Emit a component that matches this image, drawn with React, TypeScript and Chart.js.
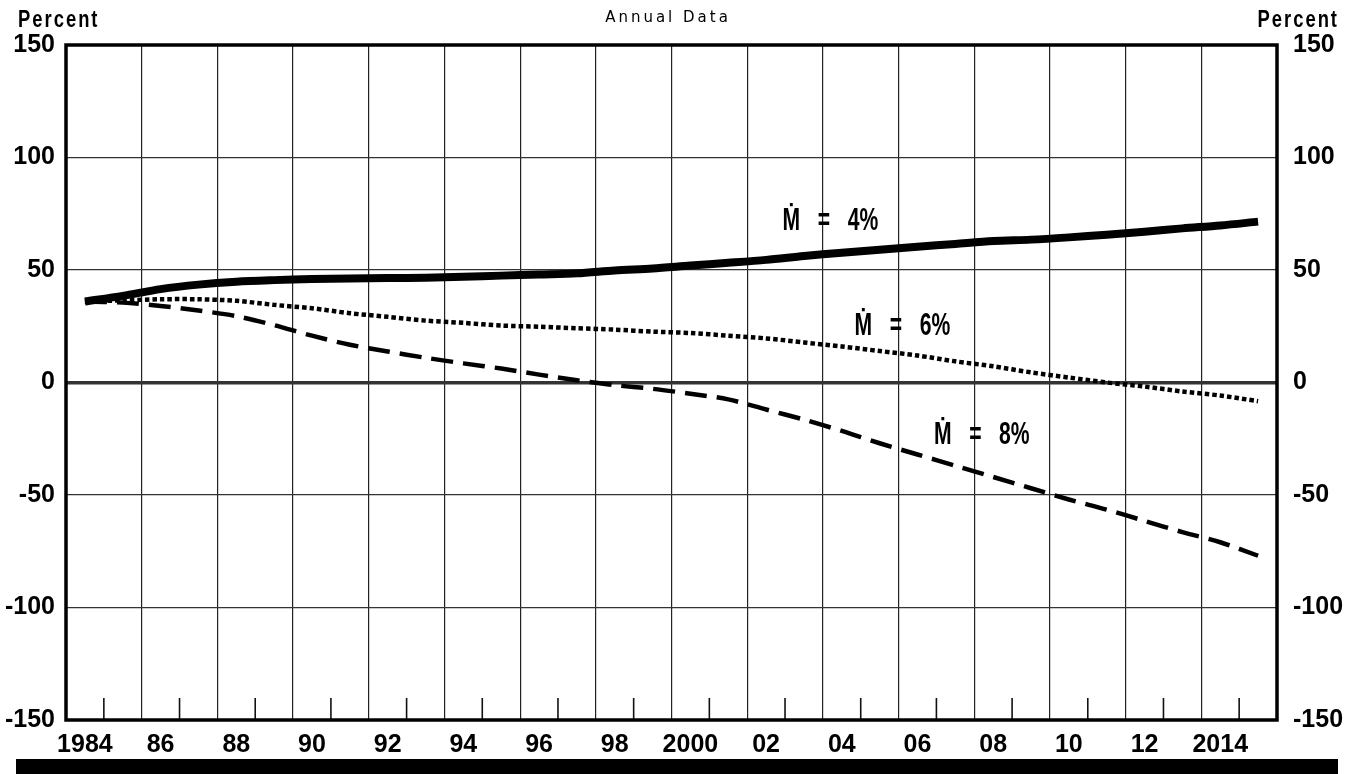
import React, { useEffect, useRef } from 'react';
import { Chart, registerables } from 'chart.js';

Chart.register(...registerables);

// ---------- data ----------
const years: string[] = [
  '1984', '1985', '1986', '1987', '1988', '1989', '1990', '1991', '1992', '1993', '1994',
  '1995', '1996', '1997', '1998', '1999', '2000', '2001', '2002', '2003', '2004', '2005',
  '2006', '2007', '2008', '2009', '2010', '2011', '2012', '2013', '2014', '2015',
];
const xTickLabels: string[] = [
  '1984', '86', '88', '90', '92', '94', '96', '98', '2000', '02', '04', '06', '08', '10', '12', '2014',
];
const yTicks: number[] = [-150, -100, -50, 0, 50, 100, 150];

const m4: number[] = [
  36, 38.5, 41.5, 43.5, 44.8, 45.5, 46, 46.2, 46.4, 46.6, 47, 47.5, 48, 48.5, 49.8, 50.7,
  52, 53.2, 54.5, 56.2, 57.7, 59, 60.3, 61.6, 62.9, 63.5, 64.5, 65.7, 67, 68.5, 69.8, 71.5,
];
const m6: number[] = [
  36, 36.5, 37, 37, 36.3, 34.5, 33, 30.8, 29.2, 27.5, 26.5, 25.3, 24.8, 24.1, 23.5, 22.6,
  22, 20.8, 19.6, 17.8, 16, 14, 12, 9.4, 7.2, 4.5, 2.2, 0, -1.8, -4, -5.8, -8.3,
];
const m8: number[] = [
  36, 35.5, 34, 32, 29.5, 25.5, 20.8, 16.8, 13.8, 11, 8.5, 6.2, 3.5, 1, -1.2, -2.8,
  -5, -7.5, -12, -16.5, -21.5, -27, -32, -37, -42, -47, -52, -56.5, -61.5, -66.5, -71, -77,
];

const seriesLabels: string[] = ['Ṁ   =   4%', 'Ṁ   =   6%', 'Ṁ   =   8%'];
// label anchors in data space: [category index, value]
const labelAnchors: [number, number][] = [
  [19.7, 71.8],
  [21.6, 25],
  [23.7, -23.3],
];

const FONT = '"Liberation Sans", Arial, sans-serif';

function drawNarrow(ctx: any, text: string, x: number, y: number, sx: number) {
  ctx.save();
  ctx.translate(x, y);
  ctx.scale(sx, 1);
  ctx.fillText(text, 0, 0);
  ctx.restore();
}

const decorPlugin = {
  id: 'decor',
  afterDraw(chart: any) {
    const { ctx, chartArea, scales } = chart;
    const x = scales.x;
    const y = scales.y;
    ctx.save();
    // minor ticks at odd-year boundaries
    ctx.strokeStyle = '#111';
    ctx.lineWidth = 1.6;
    for (let i = 1; i < years.length; i += 2) {
      const px = (x.getPixelForValue(i - 1) + x.getPixelForValue(i)) / 2;
      ctx.beginPath();
      ctx.moveTo(px, chartArea.bottom);
      ctx.lineTo(px, chartArea.bottom - 22);
      ctx.stroke();
    }
    // frame
    ctx.lineWidth = 3.5;
    ctx.strokeStyle = '#000';
    ctx.strokeRect(chartArea.left, chartArea.top, chartArea.right - chartArea.left, chartArea.bottom - chartArea.top);
    // series labels
    ctx.fillStyle = '#000';
    ctx.font = 'bold 32px ' + FONT;
    ctx.textAlign = 'center';
    ctx.textBaseline = 'middle';
    seriesLabels.forEach((t, k) => {
      const [ix, v] = labelAnchors[k];
      drawNarrow(ctx, t, x.getPixelForValue(ix), y.getPixelForValue(v), 0.66);
    });
    // top texts
    ctx.font = 'bold 23px ' + FONT;
    (ctx as any).letterSpacing = '2.5px';
    ctx.textBaseline = 'alphabetic';
    ctx.textAlign = 'left';
    drawNarrow(ctx, 'Percent', 18, 27, 0.8);
    ctx.textAlign = 'right';
    drawNarrow(ctx, 'Percent', 1339, 27, 0.8);
    (ctx as any).letterSpacing = '3px';
    ctx.font = '15px "DejaVu Sans", sans-serif';
    ctx.textAlign = 'center';
    ctx.fillText('Annual Data', 668, 22);
    (ctx as any).letterSpacing = '0px';
    // bottom black band
    ctx.fillRect(16, 759, 1322, 15);
    ctx.restore();
  },
};

export default function App() {
  const ref = useRef<HTMLCanvasElement | null>(null);
  useEffect(() => {
    if (!ref.current) return;
    const tickFont = { family: FONT, size: 25, weight: 'bold' as const };
    const chart = new Chart(ref.current, {
      type: 'line',
      data: {
        labels: years,
        datasets: [
          {
            label: seriesLabels[0],
            data: m4,
            borderColor: '#000',
            borderWidth: 8,
            pointRadius: 0,
            tension: 0.3,
            borderCapStyle: 'butt',
            yAxisID: 'y',
          },
          {
            label: seriesLabels[1],
            data: m6,
            borderColor: '#000',
            borderWidth: 4.5,
            borderDash: [4.5, 3],
            pointRadius: 0,
            tension: 0.3,
            yAxisID: 'y',
          },
          {
            label: seriesLabels[2],
            data: m8,
            borderColor: '#000',
            borderWidth: 4.5,
            borderDash: [22, 10],
            pointRadius: 0,
            tension: 0.3,
            yAxisID: 'y',
          },
        ],
      },
      options: {
        animation: false,
        responsive: true,
        maintainAspectRatio: false,
        layout: { padding: { top: 45, left: 0, right: 0, bottom: 0 } },
        plugins: { legend: { display: false }, tooltip: { enabled: false }, title: { display: false } },
        scales: {
          x: {
            type: 'category',
            offset: true,
            grid: {
              offset: true,
              drawTicks: false,
              color: (c: any) => (c.index % 2 === 0 ? '#222' : 'rgba(0,0,0,0)'),
              lineWidth: 1.2,
            },
            border: { display: false },
            ticks: {
              autoSkip: false,
              maxRotation: 0,
              minRotation: 0,
              padding: 10,
              color: '#000',
              font: tickFont,
              callback: (_v: any, i: number) => (i % 2 === 0 ? xTickLabels[i / 2] ?? '' : ''),
            },
            afterFit: (s: any) => {
              s.height = 54;
            },
          },
          y: {
            position: 'left',
            min: -150,
            max: 150,
            afterBuildTicks: (s: any) => {
              s.ticks = yTicks.map((v) => ({ value: v }));
            },
            grid: {
              drawTicks: false,
              color: '#333',
              lineWidth: (c: any) => (c.tick && c.tick.value === 0 ? 3.5 : 1.2),
            },
            border: { display: false },
            ticks: { padding: 11, color: '#000', font: tickFont },
            afterFit: (s: any) => {
              s.width = 66;
            },
          },
          y2: {
            position: 'right',
            min: -150,
            max: 150,
            afterBuildTicks: (s: any) => {
              s.ticks = yTicks.map((v) => ({ value: v }));
            },
            grid: { drawOnChartArea: false, drawTicks: false },
            border: { display: false },
            ticks: { padding: 16, color: '#000', font: tickFont },
            afterFit: (s: any) => {
              s.width = 81;
            },
          },
        },
      },
      plugins: [decorPlugin],
    });
    return () => chart.destroy();
  }, []);
  return (
    <div style={{ position: 'absolute', left: 0, top: 0, width: 1358, height: 774, background: '#fff' }}>
      <canvas ref={ref} />
    </div>
  );
}
